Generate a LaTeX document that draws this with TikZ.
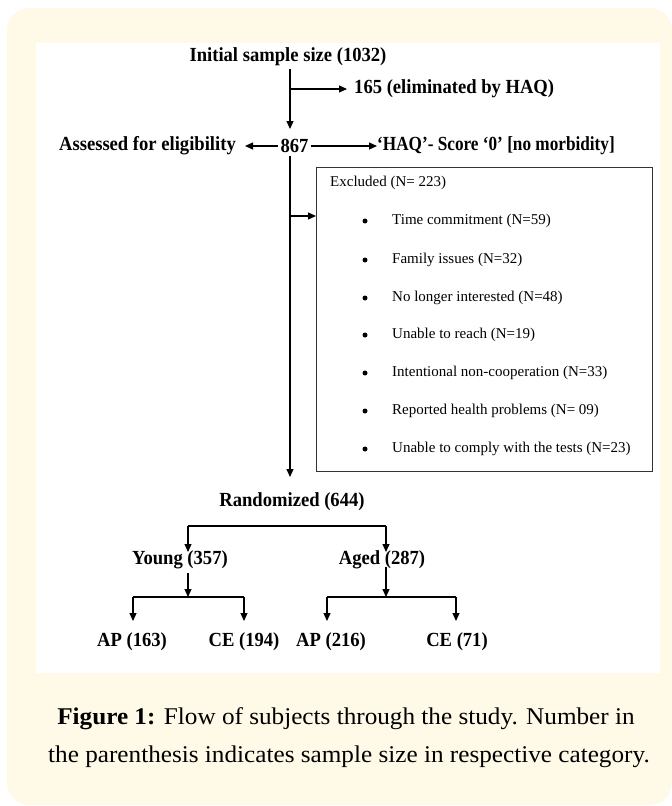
\documentclass[tikz,border=0pt]{standalone}
\usepackage{fontspec}
\setmainfont{Liberation Serif}
\newfontfamily\condserif[FakeStretch=0.93]{Liberation Serif}
\newfontfamily\condserifB[FakeStretch=0.86]{Liberation Serif}
\newfontfamily\capserif[FakeStretch=1.05]{Liberation Serif}
\usetikzlibrary{arrows.meta}
\definecolor{cream}{HTML}{FFFAE8}
\definecolor{boxgray}{HTML}{333333}
\tikzset{
  lbl/.style={font=\condserif\bfseries\fontsize{20}{22}\selectfont, inner sep=1pt},
  lblB/.style={font=\condserifB\bfseries\fontsize{20}{22}\selectfont, inner sep=0pt},
  item/.style={font=\fontsize{15}{17}\selectfont, anchor=west, inner sep=0pt},
  bul/.style={circle, fill=black, inner sep=0pt, minimum size=5pt},
  arr/.style={-{Triangle[length=8pt,width=7pt]}, line width=1.1pt},
  ln/.style={line width=1.1pt},
  captxt/.style={font=\capserif\fontsize{24}{26}\selectfont, inner sep=0pt},
}
\begin{document}
\begin{tikzpicture}[x=1pt,y=-1pt]
\useasboundingbox (0,0) rectangle (672,806);
\fill[cream, rounded corners=22pt] (7,8) rectangle (672,805);
\fill[white] (36,43) rectangle (660,673);

% top part
\node[lbl] (init) at (288,57) {Initial sample size (1032)};
\node[lbl, anchor=west, inner sep=0pt] (elim) at (354,89) {165 (eliminated by HAQ)};
\node[lbl, inner sep=2pt] (n867) at (294.5,146) {867};
\node[lbl, anchor=east, inner sep=0pt] (assess) at (236,146) {Assessed for eligibility};
\node[lblB, anchor=west] (haq) at (377,146) {‘HAQ’- Score ‘0’ [no morbidity]};

\coordinate (t1) at (290,69);
\coordinate (t2) at (290,129);
\coordinate (b1) at (290,89);
\draw[arr] (t1) -- (t2);
\draw[arr, shorten >=7pt] (b1) -- (elim.west);
\draw[arr, shorten >=9pt] (n867.west) -- (assess.east);
\draw[arr] (n867.east) -- (haq.west);

% excluded box
\node[draw=boxgray, line width=1.1pt, minimum width=336pt, minimum height=304pt, anchor=north west, inner sep=0pt] (box) at (316,167) {};
\node[item] (exc) at (330,183) {Excluded (N= 223)};
\foreach \y/\t [count=\i] in {221/Time commitment (N=59),260/Family issues (N=32),298/No longer interested (N=48),335/Unable to reach (N=19),373/Intentional non-cooperation (N=33),411/Reported health problems (N= 09),449/Unable to comply with the tests (N=23)}{
  \node[bul] (bul\i) at (365,\y) {};
  \node[item] (it\i) at (392,\y) {\t};
}

\coordinate (v1) at (290,156);
\coordinate (v2) at (290,477);
\coordinate (b2) at (290,216);
\draw[arr] (v1) -- (v2);
\draw[arr] (b2) -- (b2 -| box.west);

% randomized
\node[lbl] (rand) at (292,502) {Randomized (644)};
\coordinate (r1) at (188,526);
\coordinate (r2) at (386,526);
\node[lbl] (young) at (180,560) {Young (357)};
\node[lbl] (aged) at (382,560) {Aged (287)};
\draw[ln] (r1) -- (r2);
\draw[arr] (r1) -- (188,552);
\draw[arr] (r2) -- (386,552);

% young split
\coordinate (ys) at (188,573);
\coordinate (yj) at (188,597);
\coordinate (yl) at (133,597);
\coordinate (yr) at (244,597);
\draw[arr] (ys) -- (yj);
\draw[ln] (yl) -- (yr);
\node[lbl] (ap1) at (132,642) {AP (163)};
\node[lbl] (ce1) at (244,642) {CE (194)};
\draw[arr] (yl) -- (133,621);
\draw[arr] (yr) -- (244,621);

% aged split
\coordinate (as) at (386,567);
\coordinate (aj) at (386,597);
\coordinate (al) at (327,597);
\coordinate (ar) at (456,597);
\draw[arr] (as) -- (aj);
\draw[ln] (al) -- (ar);
\node[lbl] (ap2) at (331,642) {AP (216)};
\node[lbl] (ce2) at (457,642) {CE (71)};
\draw[arr] (al) -- (327,621);
\draw[arr] (ar) -- (456,621);

% caption
\node[captxt] (cap1) at (346,719) {\textbf{Figure 1:} Flow of subjects through the study. Number in};
\node[captxt] (cap2) at (349,757) {the parenthesis indicates sample size in respective category.};
\end{tikzpicture}
\end{document}
